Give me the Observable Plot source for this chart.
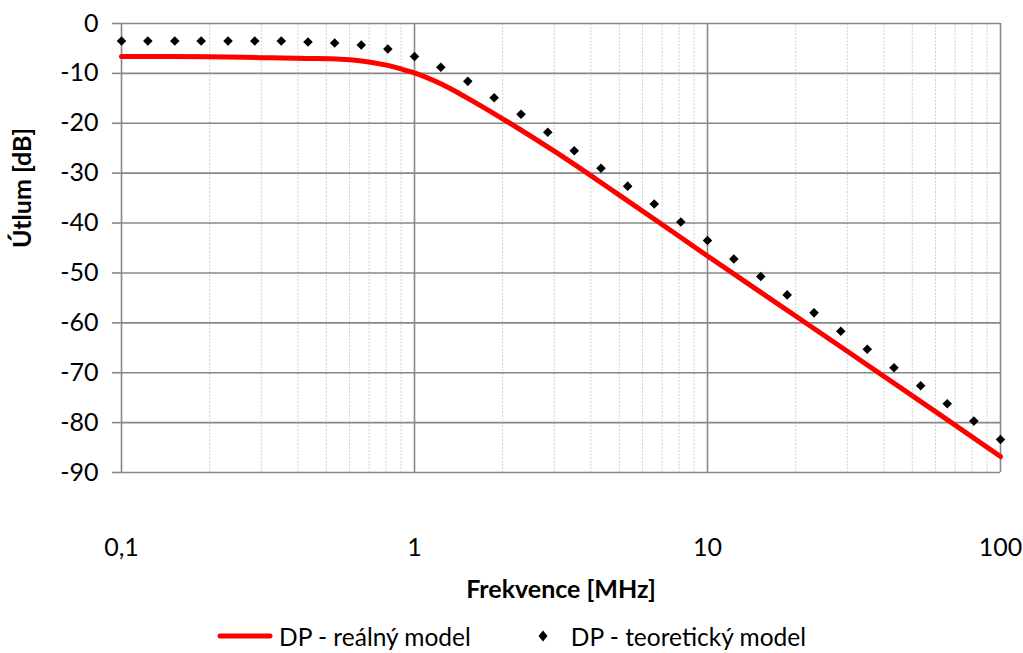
<!DOCTYPE html>
<html>
<head>
<meta charset="utf-8">
<script src="https://cdn.jsdelivr.net/npm/d3@7"></script>
<script src="https://cdn.jsdelivr.net/npm/@observablehq/plot@0.6"></script>
<style>
  html, body { margin: 0; padding: 0; background: #fff; }
  #wrap { position: relative; width: 1023px; height: 653px; font-family: Lato, "Open Sans", sans-serif; }
  #legend { position: absolute; left: 0; top: 619px; width: 1023px; height: 34px;
            display: flex; justify-content: center; align-items: center; font-size: 24.5px; color: #000; }
  .item { display: flex; align-items: center; }
  .gap { width: 66px; }
</style>
</head>
<body>
<div id="wrap">
  <div id="chart"></div>
  <div id="legend"></div>
</div>
<script>
// Series names
const seriesNames = ["DP - reálný model", "DP - teoretický model"];

// Real model (red line): frequency [MHz] and attenuation [dB]
const freqReal = [0.1, 0.15, 0.2, 0.3, 0.43, 0.56, 0.65, 0.81, 0.9, 1, 1.24, 1.5, 2, 3, 4, 5, 7, 10, 15.3, 30, 60, 100];
const attReal  = [-6.6, -6.6, -6.65, -6.85, -7.0, -7.15, -7.45, -8.4, -9.1, -9.9, -12.2, -14.8, -19.1, -25.6, -30.5, -34.4, -40.3, -46.6, -54.0, -65.7, -77.8, -86.8];

// Theoretical model (black diamonds)
const freqTheo = [0.1, 0.123, 0.152, 0.187, 0.231, 0.285, 0.351, 0.433, 0.534, 0.658, 0.811,
                  1, 1.23, 1.52, 1.87, 2.31, 2.85, 3.51, 4.33, 5.34, 6.58, 8.11,
                  10, 12.3, 15.2, 18.7, 23.1, 28.5, 35.1, 43.3, 53.4, 65.8, 81.1, 100];
const attTheo  = [-3.5, -3.5, -3.5, -3.5, -3.5, -3.5, -3.5, -3.7, -3.9, -4.3, -5.1,
                  -6.6, -8.75, -11.6, -14.9, -18.2, -21.8, -25.5, -29.0, -32.6, -36.2, -39.8,
                  -43.5, -47.2, -50.7, -54.4, -58.0, -61.7, -65.3, -69.0, -72.6, -76.2, -79.7, -83.4];

// Axes
const xTicks = [0.1, 1, 10, 100];
const xTickLabels = ["0,1", "1", "10", "100"];
const xMinorTicks = [0.2, 0.3, 0.4, 0.5, 0.6, 0.7, 0.8, 0.9, 2, 3, 4, 5, 6, 7, 8, 9, 20, 30, 40, 50, 60, 70, 80, 90];
const yTicks = [0, -10, -20, -30, -40, -50, -60, -70, -80, -90];
const xTitle = "Frekvence [MHz]";
const yTitle = "Útlum [dB]";

const realData = freqReal.map((f, i) => ({f, a: attReal[i]}));
const theoData = freqTheo.map((f, i) => ({f, a: attTheo[i]}));

const gridColor = "#878787";

const chart = Plot.plot({
  width: 1023,
  height: 615,
  marginLeft: 121,
  marginRight: 23,
  marginTop: 23,
  marginBottom: 143,
  style: { fontFamily: "Lato, 'Open Sans', sans-serif", fontSize: "25px", color: "#000", background: "#fff" },
  x: { type: "log", domain: [0.1, 100] },
  y: { domain: [-90, 0] },
  marks: [
    Plot.ruleX(xMinorTicks, { stroke: "#cfcfcf", strokeWidth: 1, strokeDasharray: "2,1.5" }),
    Plot.ruleX(xTicks, { stroke: gridColor, strokeWidth: 1.6 }),
    Plot.ruleY(yTicks, { stroke: gridColor, strokeWidth: 1.6 }),
    Plot.axisY({ ticks: yTicks, tickSize: 9, tickPadding: 14, stroke: gridColor, strokeWidth: 1.6,
                 tickFormat: d => String(d), label: null }),
    Plot.axisX({ ticks: xTicks, tickSize: 0, tickPadding: 66,
                 tickFormat: d => xTickLabels[xTicks.indexOf(d)], label: null }),
    Plot.line(realData, { x: "f", y: "a", stroke: "#ff0000", strokeWidth: 5, curve: "monotone-x" }),
    Plot.dot(theoData, { x: "f", y: "a", symbol: "diamond2", r: 4.3, fill: "#000", stroke: "none" }),
    Plot.text([yTitle], { frameAnchor: "left", dx: -99, rotate: -90, fontWeight: "bold", fontSize: 25, fill: "#000" }),
    Plot.text([xTitle], { frameAnchor: "bottom", dy: 125, fontWeight: "bold", fontSize: 25, fill: "#000" })
  ]
});
document.getElementById("chart").appendChild(chart);

// Legend
const legend = document.getElementById("legend");
legend.innerHTML = `
  <div class="item">
    <svg width="56" height="10" style="margin-right:6px"><line x1="3" y1="5" x2="53" y2="5" stroke="#ff0000" stroke-width="5" stroke-linecap="round"/></svg>
    <span>${seriesNames[0]}</span>
  </div>
  <div class="gap"></div>
  <div class="item">
    <svg width="12" height="14" style="margin-right:22px"><path d="M6,1.5 L10.5,7 L6,12.5 L1.5,7 Z" fill="#000"/></svg>
    <span>${seriesNames[1]}</span>
  </div>`;
</script>
</body>
</html>
